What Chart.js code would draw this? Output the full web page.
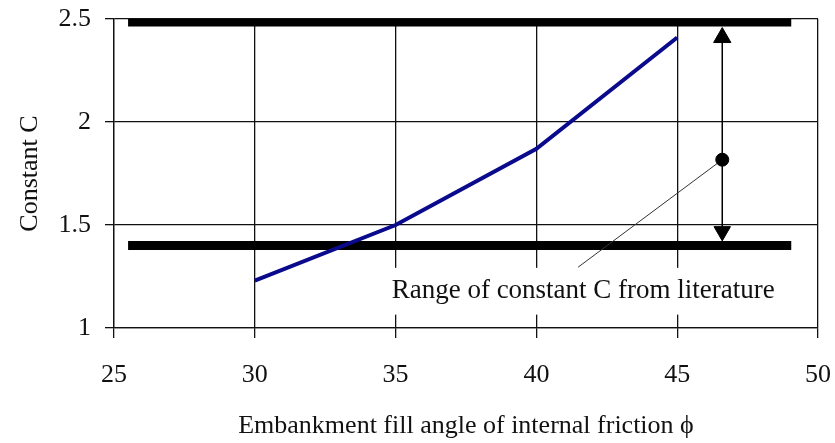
<!DOCTYPE html>
<html>
<head>
<meta charset="utf-8">
<script src="https://cdn.jsdelivr.net/npm/chart.js@4"></script>
<style>
  html, body { margin: 0; padding: 0; background: #fff; }
  #wrap { width: 835px; height: 443px; }
</style>
</head>
<body>
<div id="wrap"><canvas id="c" width="835" height="443"></canvas></div>
<script>
// ---- data ----
const phi = [30, 35, 40, 45];
const constantC = [1.23, 1.50, 1.87, 2.41];

const rangeX = [25.5, 49.05];          // extent of the literature range bars
const rangeUpper = [2.485, 2.485];
const rangeLower = [1.40, 1.40];

const arrowX = [46.6, 46.6];
const arrowY = [2.41, 1.469];          // arrow head centres (up / down)
const markerPoint = [46.6, 1.817];     // dot on the arrow
const leaderEnd = [41.48, 1.295];      // end of the leader line

const xTicks = [25, 30, 35, 40, 45, 50];
const yTicks = [1, 1.5, 2, 2.5];

const labelText = 'Range of constant C from literature';
const xTitle = 'Embankment fill angle of internal friction \u03d5';
const yTitle = 'Constant C';

const FONT = "'Liberation Serif', 'Times New Roman', serif";

const toPts = (xs, ys) => xs.map((x, i) => ({ x: x, y: ys[i] }));

const labelPlugin = {
  id: 'rangeLabel',
  beforeDatasetsDraw(chart) {
    const { ctx, scales: { x, y } } = chart;
    // white box behind the annotation text (it masks the grid lines)
    const left = x.getPixelForValue(35) - 11;
    const right = x.getPixelForValue(48.75);
    const top = y.getPixelForValue(1.292);
    const bottom = y.getPixelForValue(1.065);
    ctx.save();
    ctx.fillStyle = '#fff';
    ctx.fillRect(left, top, right - left, bottom - top);
    ctx.fillStyle = '#111';
    ctx.font = '27px ' + FONT;
    ctx.textBaseline = 'alphabetic';
    ctx.textAlign = 'left';
    ctx.fillText(labelText, x.getPixelForValue(34.86), y.getPixelForValue(1.145));
    ctx.restore();
  }
};

new Chart(document.getElementById('c'), {
  type: 'scatter',
  data: {
    datasets: [
      {
        label: 'upper',
        data: toPts(rangeX, rangeUpper),
        showLine: true, borderColor: '#000', borderWidth: 9,
        borderCapStyle: 'butt', pointRadius: 0, order: 3
      },
      {
        label: 'lower',
        data: toPts(rangeX, rangeLower),
        showLine: true, borderColor: '#000', borderWidth: 9,
        borderCapStyle: 'butt', pointRadius: 0, order: 3
      },
      {
        label: 'C',
        data: toPts(phi, constantC),
        showLine: true, borderColor: '#0a0a8c', borderWidth: 4,
        pointRadius: 0, order: 1
      },
      {
        label: 'arrow',
        data: toPts(arrowX, arrowY),
        showLine: true, borderColor: '#000', borderWidth: 1.5,
        pointStyle: 'triangle', pointRadius: [10, 9.5], pointRotation: [0, 180],
        pointBackgroundColor: '#000', pointBorderColor: '#000', pointBorderWidth: 1,
        order: 2
      },
      {
        label: 'leader',
        data: [{ x: markerPoint[0], y: markerPoint[1] }, { x: leaderEnd[0], y: leaderEnd[1] }],
        showLine: true, borderColor: '#333', borderWidth: 1,
        pointRadius: [6.5, 0], pointBackgroundColor: '#000', pointBorderColor: '#000',
        order: 2
      }
    ]
  },
  options: {
    responsive: false,
    animation: false,
    events: [],
    layout: { padding: { top: 19, right: 17, left: 0, bottom: 0 } },
    plugins: { legend: { display: false }, tooltip: { enabled: false } },
    scales: {
      x: {
        type: 'linear', min: 25, max: 50,
        afterFit(s) { s.height = 115; s.paddingLeft = 0; s.paddingRight = 0; },
        afterBuildTicks(s) { s.ticks = xTicks.map(v => ({ value: v })); },
        grid: { color: '#111', lineWidth: 1.3, tickLength: 10, drawTicks: true },
        border: { color: '#111', width: 1.3 },
        ticks: { color: '#111', font: { family: FONT, size: 26 }, padding: 22, maxRotation: 0 },
        title: { display: true, text: xTitle, color: '#111', font: { family: FONT, size: 26 }, padding: { top: 0, bottom: 1 } }
      },
      y: {
        type: 'linear', min: 1, max: 2.5,
        afterFit(s) { s.width = 114; s.paddingTop = 0; s.paddingBottom = 0; },
        afterBuildTicks(s) { s.ticks = yTicks.map(v => ({ value: v })); },
        grid: { color: '#111', lineWidth: 1.3, tickLength: 9, drawTicks: true },
        border: { color: '#111', width: 1.3 },
        ticks: { color: '#111', font: { family: FONT, size: 26 }, padding: 14, callback: v => String(v) },
        title: { display: true, text: yTitle, color: '#111', font: { family: FONT, size: 26 }, padding: { top: 15, bottom: 0 } }
      }
    }
  },
  plugins: [labelPlugin]
});
</script>
</body>
</html>
